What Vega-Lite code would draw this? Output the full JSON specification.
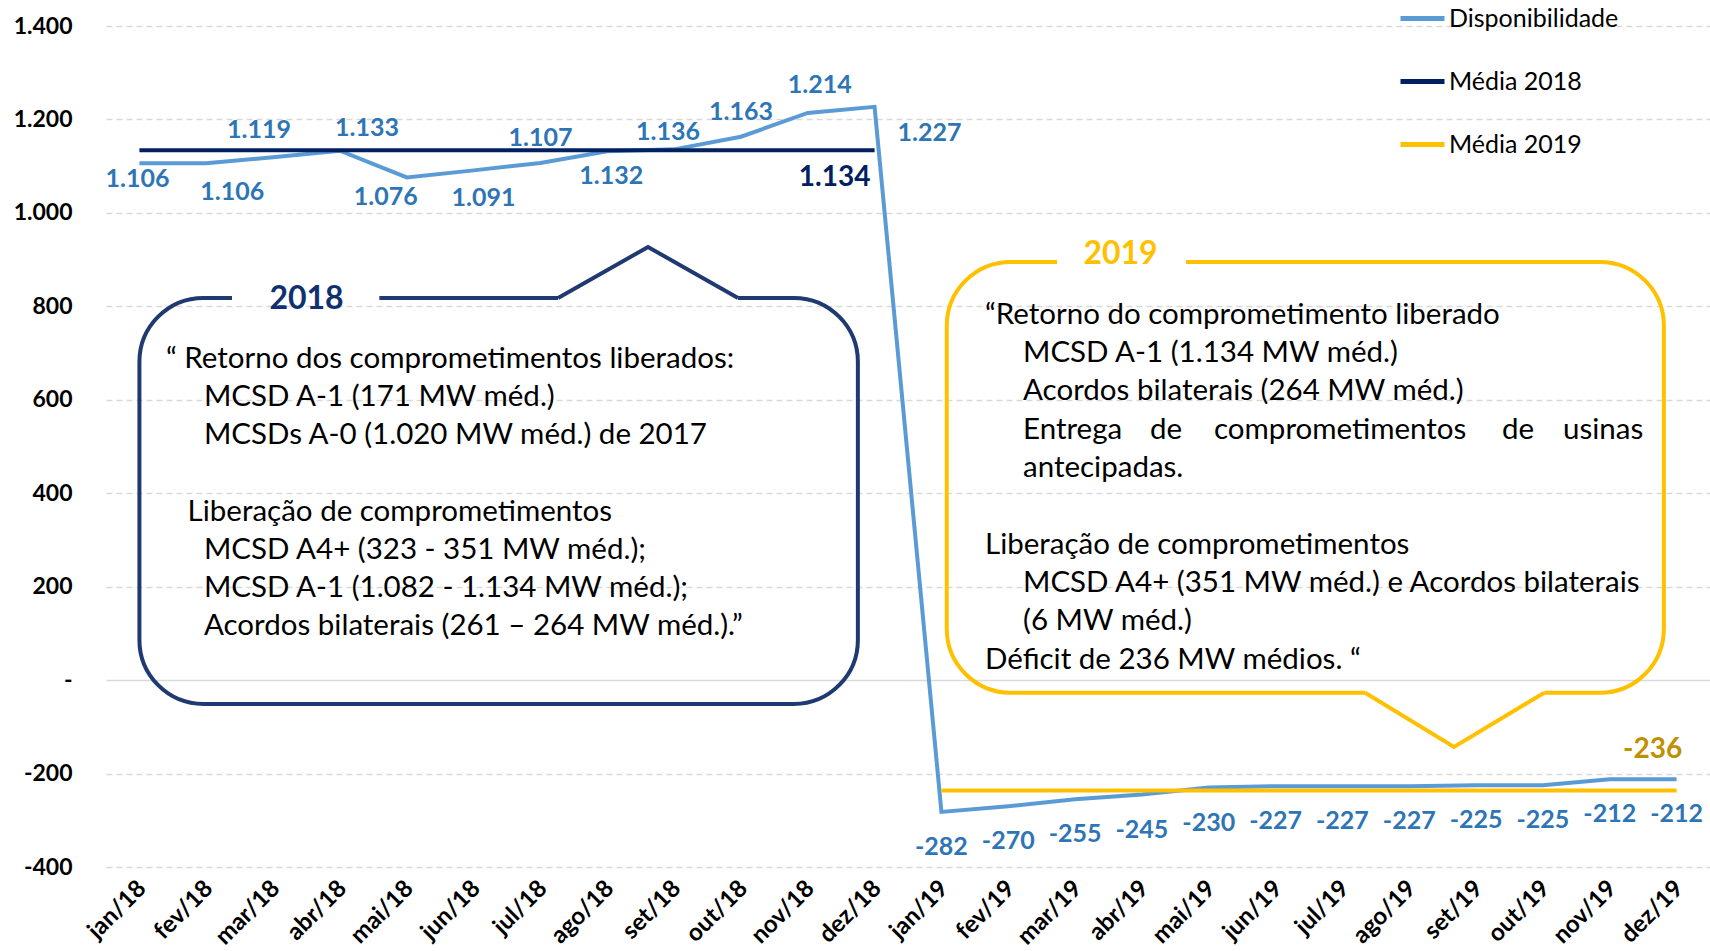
{
  "$schema": "https://vega.github.io/schema/vega-lite/v6.json",
  "width": 1604,
  "height": 841,
  "autosize": {"type": "none"},
  "padding": {"left": 106, "top": 26, "right": 0, "bottom": 84},
  "background": "white",
  "config": {
    "font": "Lato",
    "view": {"stroke": null},
    "locale": {"number": {"decimal": ",", "thousands": ".", "grouping": [3], "currency": ["R$ ", ""], "minus": "-"}},
    "text": {"fontSize": 25, "fontWeight": "bold", "color": "#2E75B6"}
  },
  "datasets": {
    "series": [
      {"mes": "jan/18", "serie": "Disponibilidade", "valor": 1106},
      {"mes": "fev/18", "serie": "Disponibilidade", "valor": 1106},
      {"mes": "mar/18", "serie": "Disponibilidade", "valor": 1119},
      {"mes": "abr/18", "serie": "Disponibilidade", "valor": 1133},
      {"mes": "mai/18", "serie": "Disponibilidade", "valor": 1076},
      {"mes": "jun/18", "serie": "Disponibilidade", "valor": 1091},
      {"mes": "jul/18", "serie": "Disponibilidade", "valor": 1107},
      {"mes": "ago/18", "serie": "Disponibilidade", "valor": 1132},
      {"mes": "set/18", "serie": "Disponibilidade", "valor": 1136},
      {"mes": "out/18", "serie": "Disponibilidade", "valor": 1163},
      {"mes": "nov/18", "serie": "Disponibilidade", "valor": 1214},
      {"mes": "dez/18", "serie": "Disponibilidade", "valor": 1227},
      {"mes": "jan/19", "serie": "Disponibilidade", "valor": -282},
      {"mes": "fev/19", "serie": "Disponibilidade", "valor": -270},
      {"mes": "mar/19", "serie": "Disponibilidade", "valor": -255},
      {"mes": "abr/19", "serie": "Disponibilidade", "valor": -245},
      {"mes": "mai/19", "serie": "Disponibilidade", "valor": -230},
      {"mes": "jun/19", "serie": "Disponibilidade", "valor": -227},
      {"mes": "jul/19", "serie": "Disponibilidade", "valor": -227},
      {"mes": "ago/19", "serie": "Disponibilidade", "valor": -227},
      {"mes": "set/19", "serie": "Disponibilidade", "valor": -225},
      {"mes": "out/19", "serie": "Disponibilidade", "valor": -225},
      {"mes": "nov/19", "serie": "Disponibilidade", "valor": -212},
      {"mes": "dez/19", "serie": "Disponibilidade", "valor": -212},
      {"mes": "jan/18", "serie": "Média 2018", "valor": 1134},
      {"mes": "fev/18", "serie": "Média 2018", "valor": 1134},
      {"mes": "mar/18", "serie": "Média 2018", "valor": 1134},
      {"mes": "abr/18", "serie": "Média 2018", "valor": 1134},
      {"mes": "mai/18", "serie": "Média 2018", "valor": 1134},
      {"mes": "jun/18", "serie": "Média 2018", "valor": 1134},
      {"mes": "jul/18", "serie": "Média 2018", "valor": 1134},
      {"mes": "ago/18", "serie": "Média 2018", "valor": 1134},
      {"mes": "set/18", "serie": "Média 2018", "valor": 1134},
      {"mes": "out/18", "serie": "Média 2018", "valor": 1134},
      {"mes": "nov/18", "serie": "Média 2018", "valor": 1134},
      {"mes": "dez/18", "serie": "Média 2018", "valor": 1134},
      {"mes": "jan/19", "serie": "Média 2019", "valor": -236},
      {"mes": "fev/19", "serie": "Média 2019", "valor": -236},
      {"mes": "mar/19", "serie": "Média 2019", "valor": -236},
      {"mes": "abr/19", "serie": "Média 2019", "valor": -236},
      {"mes": "mai/19", "serie": "Média 2019", "valor": -236},
      {"mes": "jun/19", "serie": "Média 2019", "valor": -236},
      {"mes": "jul/19", "serie": "Média 2019", "valor": -236},
      {"mes": "ago/19", "serie": "Média 2019", "valor": -236},
      {"mes": "set/19", "serie": "Média 2019", "valor": -236},
      {"mes": "out/19", "serie": "Média 2019", "valor": -236},
      {"mes": "nov/19", "serie": "Média 2019", "valor": -236},
      {"mes": "dez/19", "serie": "Média 2019", "valor": -236}
    ],
    "caixas": [
      {"ano": "2018", "x0": 0.0, "x1": 10.75, "y0": -51, "y1": 818},
      {"ano": "2019", "x0": 12.08, "x1": 22.81, "y0": -27, "y1": 895}
    ],
    "lacunas": [
      {"ano": "2018", "x0": 1.385, "x1": 3.59, "y": 818},
      {"ano": "2018", "x0": 6.264, "x1": 8.957, "y": 818},
      {"ano": "2019", "x0": 13.73, "x1": 15.66, "y": 895},
      {"ano": "2019", "x0": 18.34, "x1": 21.02, "y": -27}
    ],
    "entalhes": [
      {"ano": "2018", "ordem": 1, "x": 6.264, "y": 818},
      {"ano": "2018", "ordem": 2, "x": 7.61, "y": 927},
      {"ano": "2018", "ordem": 3, "x": 8.957, "y": 818},
      {"ano": "2019", "ordem": 1, "x": 18.34, "y": -27},
      {"ano": "2019", "ordem": 2, "x": 19.67, "y": -143},
      {"ano": "2019", "ordem": 3, "x": 21.02, "y": -27}
    ],
    "titulos": [
      {"ano": "2018", "x": 2.5, "y": 815, "texto": "2018"},
      {"ano": "2019", "x": 14.68, "y": 912, "texto": "2019"}
    ],
    "textos": [
      {"x": 0.398, "y": 687, "texto": "“ Retorno dos comprometimentos liberados:"},
      {"x": 0.966, "y": 605, "texto": "MCSD A-1 (171 MW méd.)"},
      {"x": 0.966, "y": 524, "texto": "MCSDs A-0 (1.020 MW méd.) de 2017"},
      {"x": 0.721, "y": 360, "texto": "Liberação de comprometimentos"},
      {"x": 0.966, "y": 278, "texto": "MCSD A4+ (323 - 351 MW méd.);"},
      {"x": 0.966, "y": 197, "texto": "MCSD A-1 (1.082 - 1.134 MW méd.);"},
      {"x": 0.966, "y": 115, "texto": "Acordos bilaterais (261 – 264 MW méd.).”"},
      {"x": 12.652, "y": 782, "texto": "“Retorno do comprometimento liberado"},
      {"x": 13.221, "y": 700, "texto": "MCSD A-1 (1.134 MW méd.)"},
      {"x": 13.221, "y": 618, "texto": "Acordos bilaterais (264 MW méd.)"},
      {"x": 13.221, "y": 536, "texto": "Entrega"},
      {"x": 15.121, "y": 536, "texto": "de"},
      {"x": 16.079, "y": 536, "texto": "comprometimentos"},
      {"x": 20.388, "y": 536, "texto": "de"},
      {"x": 21.301, "y": 536, "texto": "usinas"},
      {"x": 13.221, "y": 454, "texto": "antecipadas."},
      {"x": 12.652, "y": 290, "texto": "Liberação de comprometimentos"},
      {"x": 13.221, "y": 208, "texto": "MCSD A4+ (351 MW méd.) e Acordos bilaterais"},
      {"x": 13.221, "y": 126, "texto": "(6 MW méd.)"},
      {"x": 12.652, "y": 44, "texto": "Déficit de 236 MW médios. “"}
    ]
  },
  "layer": [
    {
      "data": {"name": "series"},
      "encoding": {
        "x": {
          "field": "mes", "type": "ordinal",
          "scale": {"type": "point", "padding": 0.5, "domain": ["jan/18","fev/18","mar/18","abr/18","mai/18","jun/18","jul/18","ago/18","set/18","out/18","nov/18","dez/18","jan/19","fev/19","mar/19","abr/19","mai/19","jun/19","jul/19","ago/19","set/19","out/19","nov/19","dez/19"]},
          "axis": {"title": null, "labelAngle": -45, "labelFontSize": 24, "labelFontWeight": "bold", "labelColor": "#000000", "ticks": false, "domain": false, "grid": false, "labelPadding": 9, "labelOffset": -6}
        },
        "y": {
          "field": "valor", "type": "quantitative",
          "scale": {"domain": [-400, 1400], "nice": false, "zero": false},
          "axis": {
            "title": null, "values": [-400, -200, 0, 200, 400, 600, 800, 1000, 1200, 1400],
            "format": ",d", "labelExpr": "datum.value === 0 ? '-' : datum.label",
            "labelFontSize": 23, "labelFontWeight": "bold", "labelColor": "#000000", "labelPadding": 34,
            "ticks": false, "domain": false, "grid": true, "gridColor": "#D9D9D9", "gridWidth": 1.5,
            "gridDash": {"condition": {"test": "datum.value === 0", "value": []}, "value": [6, 4]}
          }
        },
        "text": {"field": "valor", "type": "quantitative", "format": ",d"}
      },
      "layer": [
        {
          "mark": {"type": "line", "strokeWidth": 4},
          "encoding": {
            "text": null,
            "color": {
              "field": "serie", "type": "nominal",
              "scale": {"domain": ["Disponibilidade", "Média 2018", "Média 2019"], "range": ["#5B9BD5", "#002060", "#FFC000"]},
              "legend": {"title": null, "orient": "none", "legendX": 1292, "legendY": -32, "symbolType": "stroke", "symbolSize": 1936, "symbolStrokeWidth": 5, "labelFontSize": 25, "labelColor": "#000000", "labelOffset": 2, "labelLimit": 0, "rowPadding": 25, "padding": 0}
            }
          }
        },
        {"transform": [{"filter": {"field": "serie", "equal": "Disponibilidade"}}, {"filter": {"field": "mes", "equal": "jan/18"}}], "mark": {"type": "text", "dx": -2, "dy": 16}},
        {"transform": [{"filter": {"field": "serie", "equal": "Disponibilidade"}}, {"filter": {"field": "mes", "equal": "fev/18"}}], "mark": {"type": "text", "dx": 26, "dy": 29}},
        {"transform": [{"filter": {"field": "serie", "equal": "Disponibilidade"}}, {"filter": {"field": "mes", "equal": "mar/18"}}], "mark": {"type": "text", "dx": -14, "dy": -27}},
        {"transform": [{"filter": {"field": "serie", "equal": "Disponibilidade"}}, {"filter": {"field": "mes", "equal": "abr/18"}}], "mark": {"type": "text", "dx": 27, "dy": -23}},
        {"transform": [{"filter": {"field": "serie", "equal": "Disponibilidade"}}, {"filter": {"field": "mes", "equal": "mai/18"}}], "mark": {"type": "text", "dx": -21, "dy": 20}},
        {"transform": [{"filter": {"field": "serie", "equal": "Disponibilidade"}}, {"filter": {"field": "mes", "equal": "jun/18"}}], "mark": {"type": "text", "dx": 10, "dy": 28}},
        {"transform": [{"filter": {"field": "serie", "equal": "Disponibilidade"}}, {"filter": {"field": "mes", "oneOf": ["jul/18", "out/18"]}}], "mark": {"type": "text", "dx": 0, "dy": -25}},
        {"transform": [{"filter": {"field": "serie", "equal": "Disponibilidade"}}, {"filter": {"field": "mes", "equal": "ago/18"}}], "mark": {"type": "text", "dx": 4, "dy": 25}},
        {"transform": [{"filter": {"field": "serie", "equal": "Disponibilidade"}}, {"filter": {"field": "mes", "equal": "set/18"}}], "mark": {"type": "text", "dx": -6, "dy": -17}},
        {"transform": [{"filter": {"field": "serie", "equal": "Disponibilidade"}}, {"filter": {"field": "mes", "equal": "nov/18"}}], "mark": {"type": "text", "dx": 12, "dy": -28}},
        {"transform": [{"filter": {"field": "serie", "equal": "Disponibilidade"}}, {"filter": {"field": "mes", "equal": "dez/18"}}], "mark": {"type": "text", "dx": 55, "dy": 26}},
        {"transform": [{"filter": {"field": "serie", "equal": "Disponibilidade"}}, {"filter": {"field": "valor", "lt": 0}}], "mark": {"type": "text", "dy": 35}},
        {
          "transform": [{"filter": {"field": "serie", "equal": "Média 2018"}}, {"filter": {"field": "mes", "equal": "dez/18"}}],
          "mark": {"type": "text", "dx": -40, "dy": 28, "fontSize": 28, "color": "#002060"}
        },
        {
          "transform": [{"filter": {"field": "serie", "equal": "Média 2019"}}, {"filter": {"field": "mes", "equal": "dez/19"}}],
          "mark": {"type": "text", "dx": -24, "dy": -40, "fontSize": 28, "color": "#BF9000"}
        }
      ]
    },
    {
      "layer": [
        {
          "data": {"name": "caixas"},
          "mark": {"type": "rect", "fill": null, "fillOpacity": 0, "strokeWidth": 4, "cornerRadius": 64},
          "encoding": {
            "x": {"field": "x0", "type": "quantitative", "scale": {"domain": [-0.5, 23.5], "nice": false, "zero": false}, "axis": null},
            "x2": {"field": "x1"},
            "y": {"field": "y0", "type": "quantitative", "scale": {"domain": [-400, 1400], "nice": false, "zero": false}, "axis": null},
            "y2": {"field": "y1"},
            "stroke": {"field": "ano", "type": "nominal", "scale": {"domain": ["2018", "2019"], "range": ["#1F3A70", "#FFC000"]}, "legend": null}
          }
        },
        {
          "data": {"name": "lacunas"},
          "mark": {"type": "rule", "color": "white", "strokeWidth": 9},
          "encoding": {
            "x": {"field": "x0", "type": "quantitative"},
            "x2": {"field": "x1"},
            "y": {"field": "y", "type": "quantitative"}
          }
        },
        {
          "data": {"name": "entalhes"},
          "mark": {"type": "line", "strokeWidth": 4, "strokeJoin": "miter"},
          "encoding": {
            "x": {"field": "x", "type": "quantitative"},
            "y": {"field": "y", "type": "quantitative"},
            "order": {"field": "ordem"},
            "stroke": {"field": "ano", "type": "nominal", "legend": null}
          }
        },
        {
          "data": {"name": "titulos"},
          "mark": {"type": "text", "fontSize": 32, "fontWeight": "bold", "baseline": "middle"},
          "encoding": {
            "x": {"field": "x", "type": "quantitative"},
            "y": {"field": "y", "type": "quantitative"},
            "text": {"field": "texto"},
            "fill": {"field": "ano", "type": "nominal", "scale": {"domain": ["2018", "2019"], "range": ["#10306E", "#FFC000"]}, "legend": null}
          }
        },
        {
          "data": {"name": "textos"},
          "mark": {"type": "text", "fontSize": 29.5, "fontWeight": "normal", "align": "left", "baseline": "middle", "color": "#000000"},
          "encoding": {
            "x": {"field": "x", "type": "quantitative"},
            "y": {"field": "y", "type": "quantitative"},
            "text": {"field": "texto"}
          }
        }
      ]
    }
  ],
  "resolve": {"scale": {"x": "independent", "y": "independent"}}
}
